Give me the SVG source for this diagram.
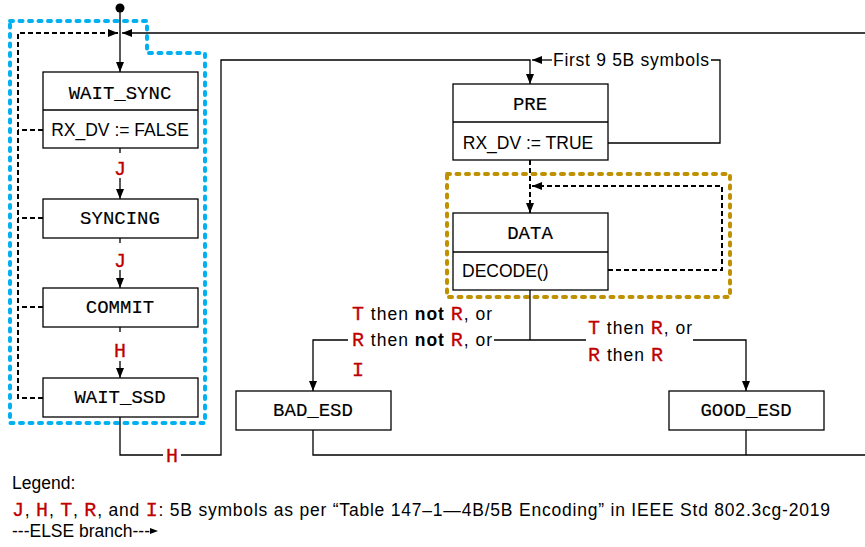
<svg xmlns="http://www.w3.org/2000/svg" width="865" height="547" viewBox="0 0 865 547">
<defs>
<marker id="arr" viewBox="0 0 10 8" refX="10" refY="4" markerWidth="10" markerHeight="8" markerUnits="userSpaceOnUse" orient="auto"><path d="M0,0 L10,4 L0,8 z" fill="#000"/></marker>
</defs>
<style>
.box{fill:#fff;stroke:#000;stroke-width:1.3}
.st{font-family:"Liberation Mono","DejaVu Sans Mono",monospace;font-size:19px;text-anchor:middle;fill:#000;stroke:#000;stroke-width:0.15}
.sans{font-family:"Liberation Sans",Arial,sans-serif;font-size:17.5px;fill:#000}
.sym{font-family:"Liberation Mono","DejaVu Sans Mono",monospace;fill:#c00000;stroke:#c00000;stroke-width:0.3;font-size:20px}
.ln{fill:none;stroke:#000;stroke-width:1.3}
.dash{fill:none;stroke:#000;stroke-width:2;stroke-dasharray:5 3}
.blue{fill:none;stroke:#00b0f0;stroke-width:4;stroke-linecap:round;stroke-dasharray:3 6.5}
.gold{fill:none;stroke:#bf9000;stroke-width:4;stroke-linecap:round;stroke-dasharray:3 6.5}
</style>
<rect width="865" height="547" fill="#fff"/>
<g id="regions">
<path class="blue" d="M10,21 H147 V53 H205 V423 H10 Z"/>
<path class="gold" d="M447,174 H730 V297 H447 Z"/>
</g>
<g id="connectors">
<path class="ln" d="M120,8 V72" marker-end="url(#arr)"/>
<path class="ln" d="M865,33 H122" marker-end="url(#arr)"/>
<path class="dash" d="M43,398 H18 V33 H118" marker-end="url(#arr)"/>
<path class="dash" d="M43,130 H18"/>
<path class="dash" d="M43,218 H18"/>
<path class="dash" d="M43,307 H18"/>
<path class="ln" d="M120,148 V153"/>
<path class="ln" d="M120,178 V199" marker-end="url(#arr)"/>
<path class="ln" d="M120,238 V243"/>
<path class="ln" d="M120,270 V288" marker-end="url(#arr)"/>
<path class="ln" d="M120,327 V332"/>
<path class="ln" d="M120,361 V378" marker-end="url(#arr)"/>
<text class="sym" x="120" y="175" text-anchor="middle">J</text>
<text class="sym" x="120" y="267" text-anchor="middle">J</text>
<text class="sym" x="120" y="357" text-anchor="middle">H</text>
<path class="ln" d="M120,417 V455 H163"/>
<text class="sym" x="172" y="462" text-anchor="middle">H</text>
<path class="ln" d="M181,455 H221 V60 H530 V84" marker-end="url(#arr)"/>
<path class="ln" d="M608,143 H720 V60 H711"/>
<path class="ln" d="M552,60 H532" marker-end="url(#arr)"/>
<text class="sans" x="553" y="66" textLength="156">First 9 5B symbols</text>
<path class="dash" d="M530,160 V213" marker-end="url(#arr)"/>
<path class="dash" d="M608,270 H722 V186 H532" marker-end="url(#arr)"/>
<path class="ln" d="M530,290 V340"/>
<path class="ln" d="M494,340 H586"/>
<path class="ln" d="M348,340 H313 V391" marker-end="url(#arr)"/>
<path class="ln" d="M693,340 H746 V391" marker-end="url(#arr)"/>
<text class="sans" x="352" y="320" textLength="140"><tspan class="sym">T</tspan> then <tspan font-weight="bold">not</tspan> <tspan class="sym">R</tspan>, or</text>
<text class="sans" x="352" y="346" textLength="140"><tspan class="sym">R</tspan> then <tspan font-weight="bold">not</tspan> <tspan class="sym">R</tspan>, or</text>
<text class="sym" x="352" y="376">I</text>
<text class="sans" x="588" y="334" textLength="104"><tspan class="sym">T</tspan> then <tspan class="sym">R</tspan>, or</text>
<text class="sans" x="588" y="361" textLength="75"><tspan class="sym">R</tspan> then <tspan class="sym">R</tspan></text>
<path class="ln" d="M313,430 V455 H865"/>
<path class="ln" d="M746,430 V455"/>
</g>
<g id="start"><circle cx="120" cy="8" r="4.5" fill="#000"/></g>
<g id="wait_sync">
<rect class="box" x="43" y="72" width="155" height="76"/>
<path class="ln" d="M43,110 H198"/>
<text class="st" x="120" y="99">WAIT_SYNC</text>
<text class="sans" x="120" y="136" text-anchor="middle">RX_DV := FALSE</text>
</g>
<g id="syncing">
<rect class="box" x="43" y="199" width="155" height="39"/>
<text class="st" x="120" y="224">SYNCING</text>
</g>
<g id="commit">
<rect class="box" x="43" y="288" width="155" height="39"/>
<text class="st" x="120" y="313">COMMIT</text>
</g>
<g id="wait_ssd">
<rect class="box" x="43" y="378" width="155" height="39"/>
<text class="st" x="120" y="403">WAIT_SSD</text>
</g>
<g id="pre">
<rect class="box" x="453" y="84" width="155" height="76"/>
<path class="ln" d="M453,122 H608"/>
<text class="st" x="530" y="110">PRE</text>
<text class="sans" x="528" y="149" text-anchor="middle">RX_DV := TRUE</text>
</g>
<g id="data">
<rect class="box" x="453" y="213" width="155" height="77"/>
<path class="ln" d="M453,252 H608"/>
<text class="st" x="530" y="239">DATA</text>
<text class="sans" x="462" y="277">DECODE()</text>
</g>
<g id="bad_esd">
<rect class="box" x="236" y="391" width="155" height="39"/>
<text class="st" x="313" y="416">BAD_ESD</text>
</g>
<g id="good_esd">
<rect class="box" x="669" y="391" width="155" height="39"/>
<text class="st" x="746" y="416">GOOD_ESD</text>
</g>
<g id="legend">
<text class="sans" x="12" y="489" font-size="19">Legend:</text>
<text class="sans" x="12" y="516" font-size="19" textLength="818"><tspan class="sym">J</tspan>, <tspan class="sym">H</tspan>, <tspan class="sym">T</tspan>, <tspan class="sym">R</tspan>, and <tspan class="sym">I</tspan>: 5B symbols as per “Table 147–1—4B/5B Encoding” in IEEE Std 802.3cg-2019</text>
<text class="sans" x="12" y="537" font-size="19" textLength="138">---ELSE branch---</text>
<path d="M150,528 L158,531 L150,534 z" fill="#000"/>
</g>
</svg>
